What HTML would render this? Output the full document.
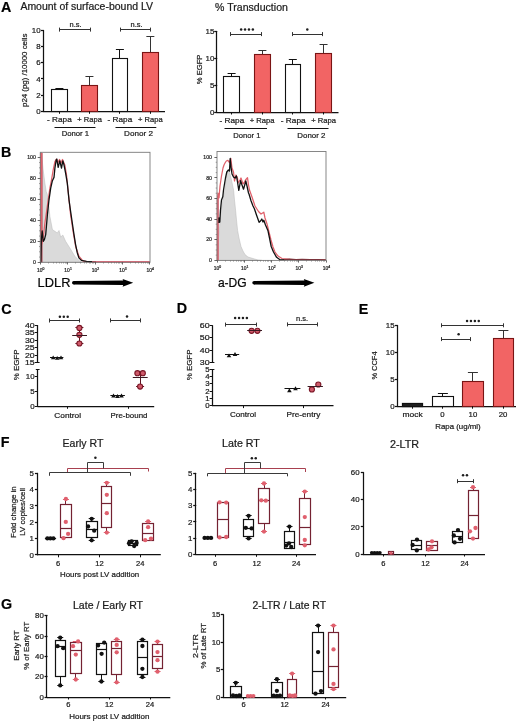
<!DOCTYPE html>
<html><head><meta charset="utf-8"><style>
html,body{margin:0;padding:0;background:#fff;}
svg{display:block;will-change:transform;}
text{stroke:#1c1c1c;stroke-width:0.22px;}
</style></head><body>
<svg width="520" height="723" viewBox="0 0 520 723" font-family='"Liberation Sans", sans-serif' fill="#1c1c1c">
<rect width="520" height="723" fill="#fff"/>
<text x="1" y="12.3" font-size="14.3" font-weight="bold" fill="#000">A</text>
<text x="20.4" y="10.1" font-size="10.3" textLength="132.6" lengthAdjust="spacingAndGlyphs">Amount of surface-bound LV</text>
<text x="215.1" y="10.5" font-size="10.3" textLength="72.8" lengthAdjust="spacingAndGlyphs">% Transduction</text>
<line x1="43.5" y1="30.2" x2="43.5" y2="111.8" stroke="#111" stroke-width="1.25"/>
<line x1="41" y1="111.5" x2="44.02" y2="111.5" stroke="#111" stroke-width="1.25"/>
<text x="40.6" y="114" font-size="7.88" text-anchor="end">0</text>
<line x1="41" y1="95.5" x2="44.02" y2="95.5" stroke="#111" stroke-width="1.25"/>
<text x="40.6" y="97.8" font-size="7.88" text-anchor="end">2</text>
<line x1="41" y1="78.5" x2="44.02" y2="78.5" stroke="#111" stroke-width="1.25"/>
<text x="40.6" y="81.6" font-size="7.88" text-anchor="end">4</text>
<line x1="41" y1="62.5" x2="44.02" y2="62.5" stroke="#111" stroke-width="1.25"/>
<text x="40.6" y="65.4" font-size="7.88" text-anchor="end">6</text>
<line x1="41" y1="46.5" x2="44.02" y2="46.5" stroke="#111" stroke-width="1.25"/>
<text x="40.6" y="49.2" font-size="7.88" text-anchor="end">8</text>
<line x1="41" y1="30.5" x2="44.02" y2="30.5" stroke="#111" stroke-width="1.25"/>
<text x="40.6" y="33" font-size="7.88" text-anchor="end">10</text>
<line x1="43.4" y1="111.5" x2="165" y2="111.5" stroke="#111" stroke-width="1.25"/>
<line x1="59.5" y1="89.4" x2="59.5" y2="88.4" stroke="#111" stroke-width="1"/>
<line x1="55.4" y1="88.5" x2="63.4" y2="88.5" stroke="#111" stroke-width="1"/>
<rect x="51.5" y="89.5" width="16" height="22" fill="#fff" stroke="#111" stroke-width="1.1"/>
<line x1="59.5" y1="111.3" x2="59.5" y2="113.8" stroke="#111" stroke-width="1"/>
<line x1="89.5" y1="85.9" x2="89.5" y2="76.4" stroke="#333" stroke-width="1"/>
<line x1="85.45" y1="76.5" x2="93.45" y2="76.5" stroke="#333" stroke-width="1"/>
<rect x="81.5" y="85.5" width="16" height="26" fill="#f26464" stroke="#7a1414" stroke-width="1.1"/>
<line x1="89.5" y1="111.3" x2="89.5" y2="113.8" stroke="#111" stroke-width="1"/>
<line x1="119.5" y1="58" x2="119.5" y2="49" stroke="#111" stroke-width="1"/>
<line x1="115.9" y1="49.5" x2="123.9" y2="49.5" stroke="#111" stroke-width="1"/>
<rect x="112.5" y="58.5" width="15" height="53" fill="#fff" stroke="#111" stroke-width="1.1"/>
<line x1="119.5" y1="111.3" x2="119.5" y2="113.8" stroke="#111" stroke-width="1"/>
<line x1="150.5" y1="52" x2="150.5" y2="36.3" stroke="#333" stroke-width="1"/>
<line x1="146.35" y1="36.5" x2="154.35" y2="36.5" stroke="#333" stroke-width="1"/>
<rect x="142.5" y="52.5" width="16" height="59" fill="#f26464" stroke="#7a1414" stroke-width="1.1"/>
<line x1="150.5" y1="111.3" x2="150.5" y2="113.8" stroke="#111" stroke-width="1"/>
<line x1="59.5" y1="29.5" x2="90" y2="29.5" stroke="#333" stroke-width="1"/>
<line x1="59.5" y1="27.6" x2="59.5" y2="31.6" stroke="#333" stroke-width="1"/>
<line x1="90.5" y1="27.6" x2="90.5" y2="31.6" stroke="#333" stroke-width="1"/>
<line x1="120.5" y1="29.5" x2="150.75" y2="29.5" stroke="#333" stroke-width="1"/>
<line x1="120.5" y1="27.6" x2="120.5" y2="31.6" stroke="#333" stroke-width="1"/>
<line x1="150.5" y1="27.6" x2="150.5" y2="31.6" stroke="#333" stroke-width="1"/>
<text x="75.6" y="27" font-size="7.35" text-anchor="middle" textLength="12" lengthAdjust="spacingAndGlyphs">n.s.</text>
<text x="136.5" y="27" font-size="7.35" text-anchor="middle" textLength="12" lengthAdjust="spacingAndGlyphs">n.s.</text>
<text x="59.4" y="122.1" font-size="7.67" text-anchor="middle" textLength="24.6" lengthAdjust="spacingAndGlyphs">- Rapa</text>
<text x="89.6" y="122.1" font-size="7.67" text-anchor="middle" textLength="24.6" lengthAdjust="spacingAndGlyphs">+ Rapa</text>
<text x="119.9" y="122.1" font-size="7.67" text-anchor="middle" textLength="24.6" lengthAdjust="spacingAndGlyphs">- Rapa</text>
<text x="150.3" y="122.1" font-size="7.67" text-anchor="middle" textLength="24.6" lengthAdjust="spacingAndGlyphs">+ Rapa</text>
<line x1="54.5" y1="127.5" x2="95.5" y2="127.5" stroke="#111" stroke-width="1"/>
<line x1="115.5" y1="127.5" x2="156.3" y2="127.5" stroke="#111" stroke-width="1"/>
<text x="75.4" y="136.2" font-size="7.77" text-anchor="middle" textLength="27.5" lengthAdjust="spacingAndGlyphs">Donor 1</text>
<text x="138.5" y="136.2" font-size="7.77" text-anchor="middle" textLength="28.8" lengthAdjust="spacingAndGlyphs">Donor 2</text>
<text x="27.3" y="70.3" font-size="7.98" text-anchor="middle" textLength="73.4" lengthAdjust="spacingAndGlyphs" transform="rotate(-90 27.3 70.3)">p24 (pg) /10000 cells</text>
<line x1="216.5" y1="31" x2="216.5" y2="112.5" stroke="#111" stroke-width="1.25"/>
<line x1="214.2" y1="112.5" x2="217.22" y2="112.5" stroke="#111" stroke-width="1.25"/>
<text x="214.3" y="114.7" font-size="7.88" text-anchor="end">0</text>
<line x1="214.2" y1="85.5" x2="217.22" y2="85.5" stroke="#111" stroke-width="1.25"/>
<text x="214.3" y="87.7" font-size="7.88" text-anchor="end">5</text>
<line x1="214.2" y1="58.5" x2="217.22" y2="58.5" stroke="#111" stroke-width="1.25"/>
<text x="214.3" y="60.7" font-size="7.88" text-anchor="end">10</text>
<line x1="214.2" y1="31.5" x2="217.22" y2="31.5" stroke="#111" stroke-width="1.25"/>
<text x="214.3" y="33.7" font-size="7.88" text-anchor="end">15</text>
<line x1="216.6" y1="112.5" x2="338.5" y2="112.5" stroke="#111" stroke-width="1.25"/>
<line x1="231.5" y1="76.25" x2="231.5" y2="73.25" stroke="#111" stroke-width="1"/>
<line x1="227.6" y1="73.5" x2="235.6" y2="73.5" stroke="#111" stroke-width="1"/>
<rect x="223.5" y="76.5" width="16" height="36" fill="#fff" stroke="#111" stroke-width="1.1"/>
<line x1="231.5" y1="112" x2="231.5" y2="114.5" stroke="#111" stroke-width="1"/>
<line x1="262.5" y1="54.6" x2="262.5" y2="50.8" stroke="#333" stroke-width="1"/>
<line x1="258.4" y1="50.5" x2="266.4" y2="50.5" stroke="#333" stroke-width="1"/>
<rect x="254.5" y="54.5" width="16" height="58" fill="#f26464" stroke="#7a1414" stroke-width="1.1"/>
<line x1="262.5" y1="112" x2="262.5" y2="114.5" stroke="#111" stroke-width="1"/>
<line x1="292.5" y1="64.2" x2="292.5" y2="59.4" stroke="#111" stroke-width="1"/>
<line x1="288.8" y1="59.5" x2="296.8" y2="59.5" stroke="#111" stroke-width="1"/>
<rect x="285.5" y="64.5" width="15" height="48" fill="#fff" stroke="#111" stroke-width="1.1"/>
<line x1="292.5" y1="112" x2="292.5" y2="114.5" stroke="#111" stroke-width="1"/>
<line x1="323.5" y1="53.1" x2="323.5" y2="44.4" stroke="#333" stroke-width="1"/>
<line x1="319.55" y1="44.5" x2="327.55" y2="44.5" stroke="#333" stroke-width="1"/>
<rect x="315.5" y="53.5" width="16" height="59" fill="#f26464" stroke="#7a1414" stroke-width="1.1"/>
<line x1="323.5" y1="112" x2="323.5" y2="114.5" stroke="#111" stroke-width="1"/>
<line x1="230.75" y1="34.5" x2="261.4" y2="34.5" stroke="#333" stroke-width="1"/>
<line x1="230.5" y1="32.1" x2="230.5" y2="36.1" stroke="#333" stroke-width="1"/>
<line x1="261.5" y1="32.1" x2="261.5" y2="36.1" stroke="#333" stroke-width="1"/>
<line x1="292" y1="34.5" x2="322.7" y2="34.5" stroke="#333" stroke-width="1"/>
<line x1="292.5" y1="32.1" x2="292.5" y2="36.1" stroke="#333" stroke-width="1"/>
<line x1="322.5" y1="32.1" x2="322.5" y2="36.1" stroke="#333" stroke-width="1"/>
<circle cx="241.15" cy="29.4" r="1.25" fill="#1e1e1e"/>
<circle cx="245.05" cy="29.4" r="1.25" fill="#1e1e1e"/>
<circle cx="248.95" cy="29.4" r="1.25" fill="#1e1e1e"/>
<circle cx="252.85" cy="29.4" r="1.25" fill="#1e1e1e"/>
<circle cx="307.3" cy="29.4" r="1.25" fill="#1e1e1e"/>
<text x="231.9" y="123.3" font-size="7.67" text-anchor="middle" textLength="24.8" lengthAdjust="spacingAndGlyphs">- Rapa</text>
<text x="262.2" y="123.3" font-size="7.67" text-anchor="middle" textLength="24.8" lengthAdjust="spacingAndGlyphs">+ Rapa</text>
<text x="293.2" y="123.3" font-size="7.67" text-anchor="middle" textLength="24.8" lengthAdjust="spacingAndGlyphs">- Rapa</text>
<text x="323.6" y="123.3" font-size="7.67" text-anchor="middle" textLength="24.8" lengthAdjust="spacingAndGlyphs">+ Rapa</text>
<line x1="224.5" y1="128.5" x2="267" y2="128.5" stroke="#111" stroke-width="1"/>
<line x1="287.5" y1="128.5" x2="328.5" y2="128.5" stroke="#111" stroke-width="1"/>
<text x="246.9" y="137.6" font-size="7.77" text-anchor="middle" textLength="27.1" lengthAdjust="spacingAndGlyphs">Donor 1</text>
<text x="311.4" y="137.6" font-size="7.77" text-anchor="middle" textLength="28.1" lengthAdjust="spacingAndGlyphs">Donor 2</text>
<text x="202.3" y="69.4" font-size="7.67" text-anchor="middle" textLength="29.5" lengthAdjust="spacingAndGlyphs" transform="rotate(-90 202.3 69.4)">% EGFP</text>
<text x="0.9" y="157.4" font-size="14.3" font-weight="bold" fill="#000">B</text>
<path d="M40.3 262.3 L40.3 153 L41.6 153.3 L43.2 170 L44.9 183.2 L46.2 191.5 L47.4 194.8 L49 208 L49.9 216.4 L52.4 229.6 L54.9 231.3 L57.3 233 L59 230.5 L60.7 237.1 L62.8 235 L65.6 241.3 L69.8 247.9 L74.8 256.2 L79.8 261.2 L82 262.3 Z" fill="#dadada" stroke="#b8b8b8" stroke-width="0.5"/>
<rect x="40" y="153" width="2.6" height="109.3" fill="#b8606c"/>
<path d="M41 262.3 L41 153 L41.6 153 L41.6 244.6 L43.2 238 L44.9 223 L46.6 211.4 L48.2 199.8 L49.9 188.2 L51.5 179.9 L53.2 169.9 L54.9 161.6 L56.5 159.1 L58 162.5 L59.5 159.5 L61 163 L62.5 159.5 L64.8 164.9 L66.5 174.9 L68.5 194.8 L70.6 214.7 L73.1 231.3 L75.6 246.2 L78.9 256.2 L83.1 261.2 L89.7 261.9 L150 261.9" stroke="#e0606a" stroke-width="1.25" fill="none" stroke-linejoin="round"/>
<path d="M40.9 262.3 L41.3 240 L42.2 231 L43.2 241.3 L44.4 239.6 L45.7 234.6 L47.4 214.7 L49 199.8 L50.7 188.2 L52.4 180.7 L54 177.4 L54.9 168.2 L56.2 159.9 L56.8 159.1 L58.2 167.4 L59.8 160.8 L61.5 168.2 L62.8 160.8 L64 164.9 L65.6 173.2 L67.3 183.2 L69 199.8 L70.6 211.4 L72.3 223 L74 234.6 L75.6 244.6 L77.3 252.9 L78.9 257.9 L81.4 260.4 L86.4 261.4 L96 262" stroke="#111" stroke-width="1.3" fill="none" stroke-linejoin="round"/>
<path d="M92 261.8 L150 261.8" stroke="#d86070" stroke-width="1.2" fill="none"/>
<rect x="40.3" y="152.3" width="109.7" height="110" fill="none" stroke="#7a7a7a" stroke-width="0.9"/>
<line x1="39" y1="257.05" x2="40.3" y2="257.05" stroke="#777" stroke-width="0.7"/>
<line x1="39" y1="251.8" x2="40.3" y2="251.8" stroke="#777" stroke-width="0.7"/>
<line x1="39" y1="246.55" x2="40.3" y2="246.55" stroke="#777" stroke-width="0.7"/>
<line x1="39" y1="236.05" x2="40.3" y2="236.05" stroke="#777" stroke-width="0.7"/>
<line x1="39" y1="230.8" x2="40.3" y2="230.8" stroke="#777" stroke-width="0.7"/>
<line x1="39" y1="225.55" x2="40.3" y2="225.55" stroke="#777" stroke-width="0.7"/>
<line x1="39" y1="215.05" x2="40.3" y2="215.05" stroke="#777" stroke-width="0.7"/>
<line x1="39" y1="209.8" x2="40.3" y2="209.8" stroke="#777" stroke-width="0.7"/>
<line x1="39" y1="204.55" x2="40.3" y2="204.55" stroke="#777" stroke-width="0.7"/>
<line x1="39" y1="194.05" x2="40.3" y2="194.05" stroke="#777" stroke-width="0.7"/>
<line x1="39" y1="188.8" x2="40.3" y2="188.8" stroke="#777" stroke-width="0.7"/>
<line x1="39" y1="183.55" x2="40.3" y2="183.55" stroke="#777" stroke-width="0.7"/>
<line x1="39" y1="173.05" x2="40.3" y2="173.05" stroke="#777" stroke-width="0.7"/>
<line x1="39" y1="167.8" x2="40.3" y2="167.8" stroke="#777" stroke-width="0.7"/>
<line x1="39" y1="162.55" x2="40.3" y2="162.55" stroke="#777" stroke-width="0.7"/>
<line x1="37.7" y1="262.5" x2="40.3" y2="262.5" stroke="#444" stroke-width="0.8"/>
<text x="35.9" y="264.1" font-size="5.2" text-anchor="end" fill="#333">0</text>
<line x1="37.7" y1="241.5" x2="40.3" y2="241.5" stroke="#444" stroke-width="0.8"/>
<text x="35.9" y="243.1" font-size="5.2" text-anchor="end" fill="#333">20</text>
<line x1="37.7" y1="220.5" x2="40.3" y2="220.5" stroke="#444" stroke-width="0.8"/>
<text x="35.9" y="222.1" font-size="5.2" text-anchor="end" fill="#333">40</text>
<line x1="37.7" y1="199.5" x2="40.3" y2="199.5" stroke="#444" stroke-width="0.8"/>
<text x="35.9" y="201.1" font-size="5.2" text-anchor="end" fill="#333">60</text>
<line x1="37.7" y1="178.5" x2="40.3" y2="178.5" stroke="#444" stroke-width="0.8"/>
<text x="35.9" y="180.1" font-size="5.2" text-anchor="end" fill="#333">80</text>
<line x1="37.7" y1="157.5" x2="40.3" y2="157.5" stroke="#444" stroke-width="0.8"/>
<text x="35.9" y="159.1" font-size="5.2" text-anchor="end" fill="#333">100</text>
<line x1="40.5" y1="262.3" x2="40.5" y2="264.5" stroke="#444" stroke-width="0.8"/>
<text x="39.7" y="272.1" font-size="4.9" text-anchor="middle" fill="#333">10</text>
<text x="42.5" y="269.9" font-size="3.4" fill="#333">0</text>
<line x1="48.5" y1="262.3" x2="48.5" y2="263.5" stroke="#666" stroke-width="0.6"/>
<line x1="53.5" y1="262.3" x2="53.5" y2="263.5" stroke="#666" stroke-width="0.6"/>
<line x1="56.5" y1="262.3" x2="56.5" y2="263.5" stroke="#666" stroke-width="0.6"/>
<line x1="59.5" y1="262.3" x2="59.5" y2="263.5" stroke="#666" stroke-width="0.6"/>
<line x1="61.5" y1="262.3" x2="61.5" y2="263.5" stroke="#666" stroke-width="0.6"/>
<line x1="63.5" y1="262.3" x2="63.5" y2="263.5" stroke="#666" stroke-width="0.6"/>
<line x1="65.5" y1="262.3" x2="65.5" y2="263.5" stroke="#666" stroke-width="0.6"/>
<line x1="66.5" y1="262.3" x2="66.5" y2="263.5" stroke="#666" stroke-width="0.6"/>
<line x1="67.5" y1="262.3" x2="67.5" y2="264.5" stroke="#444" stroke-width="0.8"/>
<text x="67.1" y="272.1" font-size="4.9" text-anchor="middle" fill="#333">10</text>
<text x="69.9" y="269.9" font-size="3.4" fill="#333">1</text>
<line x1="75.5" y1="262.3" x2="75.5" y2="263.5" stroke="#666" stroke-width="0.6"/>
<line x1="80.5" y1="262.3" x2="80.5" y2="263.5" stroke="#666" stroke-width="0.6"/>
<line x1="84.5" y1="262.3" x2="84.5" y2="263.5" stroke="#666" stroke-width="0.6"/>
<line x1="86.5" y1="262.3" x2="86.5" y2="263.5" stroke="#666" stroke-width="0.6"/>
<line x1="89.5" y1="262.3" x2="89.5" y2="263.5" stroke="#666" stroke-width="0.6"/>
<line x1="90.5" y1="262.3" x2="90.5" y2="263.5" stroke="#666" stroke-width="0.6"/>
<line x1="92.5" y1="262.3" x2="92.5" y2="263.5" stroke="#666" stroke-width="0.6"/>
<line x1="93.5" y1="262.3" x2="93.5" y2="263.5" stroke="#666" stroke-width="0.6"/>
<line x1="95.5" y1="262.3" x2="95.5" y2="264.5" stroke="#444" stroke-width="0.8"/>
<text x="94.5" y="272.1" font-size="4.9" text-anchor="middle" fill="#333">10</text>
<text x="97.3" y="269.9" font-size="3.4" fill="#333">2</text>
<line x1="103.5" y1="262.3" x2="103.5" y2="263.5" stroke="#666" stroke-width="0.6"/>
<line x1="108.5" y1="262.3" x2="108.5" y2="263.5" stroke="#666" stroke-width="0.6"/>
<line x1="111.5" y1="262.3" x2="111.5" y2="263.5" stroke="#666" stroke-width="0.6"/>
<line x1="114.5" y1="262.3" x2="114.5" y2="263.5" stroke="#666" stroke-width="0.6"/>
<line x1="116.5" y1="262.3" x2="116.5" y2="263.5" stroke="#666" stroke-width="0.6"/>
<line x1="118.5" y1="262.3" x2="118.5" y2="263.5" stroke="#666" stroke-width="0.6"/>
<line x1="119.5" y1="262.3" x2="119.5" y2="263.5" stroke="#666" stroke-width="0.6"/>
<line x1="121.5" y1="262.3" x2="121.5" y2="263.5" stroke="#666" stroke-width="0.6"/>
<line x1="122.5" y1="262.3" x2="122.5" y2="264.5" stroke="#444" stroke-width="0.8"/>
<text x="121.9" y="272.1" font-size="4.9" text-anchor="middle" fill="#333">10</text>
<text x="124.7" y="269.9" font-size="3.4" fill="#333">3</text>
<line x1="130.5" y1="262.3" x2="130.5" y2="263.5" stroke="#666" stroke-width="0.6"/>
<line x1="135.5" y1="262.3" x2="135.5" y2="263.5" stroke="#666" stroke-width="0.6"/>
<line x1="138.5" y1="262.3" x2="138.5" y2="263.5" stroke="#666" stroke-width="0.6"/>
<line x1="141.5" y1="262.3" x2="141.5" y2="263.5" stroke="#666" stroke-width="0.6"/>
<line x1="143.5" y1="262.3" x2="143.5" y2="263.5" stroke="#666" stroke-width="0.6"/>
<line x1="145.5" y1="262.3" x2="145.5" y2="263.5" stroke="#666" stroke-width="0.6"/>
<line x1="147.5" y1="262.3" x2="147.5" y2="263.5" stroke="#666" stroke-width="0.6"/>
<line x1="148.5" y1="262.3" x2="148.5" y2="263.5" stroke="#666" stroke-width="0.6"/>
<line x1="149.5" y1="262.3" x2="149.5" y2="264.5" stroke="#444" stroke-width="0.8"/>
<text x="149.3" y="272.1" font-size="4.9" text-anchor="middle" fill="#333">10</text>
<text x="152.1" y="269.9" font-size="3.4" fill="#333">4</text>
<text x="37.6" y="287" font-size="12.7" textLength="32.8" lengthAdjust="spacingAndGlyphs" fill="#000">LDLR</text>
<path d="M73.7 281 L123.2 280.6 L122.6 278.9 L133.2 282.8 L122.6 286.7 L123.2 285 L73.7 284.6 Z" fill="#000"/>
<circle cx="73.8" cy="282.8" r="1.8" fill="#000"/>
<path d="M217.3 260.4 L217.5 250 L218.5 238 L219.5 228 L220 220 L221 212 L222 205 L223.5 196 L224.8 190 L226 180 L227.2 173 L228.4 170.6 L229.5 172 L230.5 176 L231.5 180 L232.5 185 L233.6 190 L234.5 200 L235.6 210.2 L236.5 220 L237.6 230.4 L239 238 L241 246.5 L243 251 L245 254.6 L248 257 L253 258.5 L258 260 L262 260.4 Z" fill="#dadada" stroke="#b8b8b8" stroke-width="0.5"/>
<rect x="217" y="196" width="1.9" height="64.4" fill="#d46a78"/>
<path d="M217.4 260.4 L217.4 200 L218 193 L219 198 L220 186 L221.5 176 L223 168 L224 165 L225 163 L226.3 161 L227.9 160.3 L229.5 162.7 L230.8 158.4 L231 160 L232 168 L233.5 172 L234.5 181 L236 175 L237.5 178 L238 183 L240 180 L241 178 L243 184 L244 183 L245.5 180 L247.5 177.7 L248.5 185 L249.5 190 L252 197 L255 206 L258.5 211.5 L261 214 L263.8 212.2 L265 218 L267 224 L269 232 L271 240 L273 247 L275 252 L278 256 L282 258.5 L290 259.3 L300 259.5 L326 259.9" stroke="#e0606a" stroke-width="1.25" fill="none" stroke-linejoin="round"/>
<path d="M219 223 L219 218 L219.8 222 L220.5 210 L221.5 200 L222.8 196.7 L223.5 190 L224.5 184 L225.5 178 L226.8 172 L228.4 169.9 L229.5 171 L230.2 158.5 L231 167 L232 174 L233.5 177 L235 178 L236.5 176 L237.5 182 L238.8 190.4 L240 184 L240.6 180.6 L242 185 L243.5 189.2 L245 184 L245.8 181 L247 186 L248.5 193 L249 194 L251 200.8 L253 206 L254.4 208.8 L256.5 215 L259.1 222.3 L260.5 221 L261.8 219 L263 222 L263.8 220.3 L265.5 225 L267.9 230.4 L269.5 238 L271.2 246.5 L273.5 252 L276.6 257.3 L280 259.8 L286 259.7" stroke="#111" stroke-width="1.3" fill="none" stroke-linejoin="round"/>
<path d="M284 259.6 L290 259.2 L296 259.6 L302 259.3 L310 259.7 L318 259.5 L326 259.8" stroke="#7a3038" stroke-width="1.2" fill="none"/>
<rect x="217" y="151.5" width="109" height="108.9" fill="none" stroke="#7a7a7a" stroke-width="0.9"/>
<line x1="215.7" y1="255.14" x2="217" y2="255.14" stroke="#777" stroke-width="0.7"/>
<line x1="215.7" y1="249.98" x2="217" y2="249.98" stroke="#777" stroke-width="0.7"/>
<line x1="215.7" y1="244.82" x2="217" y2="244.82" stroke="#777" stroke-width="0.7"/>
<line x1="215.7" y1="234.5" x2="217" y2="234.5" stroke="#777" stroke-width="0.7"/>
<line x1="215.7" y1="229.34" x2="217" y2="229.34" stroke="#777" stroke-width="0.7"/>
<line x1="215.7" y1="224.18" x2="217" y2="224.18" stroke="#777" stroke-width="0.7"/>
<line x1="215.7" y1="213.86" x2="217" y2="213.86" stroke="#777" stroke-width="0.7"/>
<line x1="215.7" y1="208.7" x2="217" y2="208.7" stroke="#777" stroke-width="0.7"/>
<line x1="215.7" y1="203.54" x2="217" y2="203.54" stroke="#777" stroke-width="0.7"/>
<line x1="215.7" y1="193.22" x2="217" y2="193.22" stroke="#777" stroke-width="0.7"/>
<line x1="215.7" y1="188.06" x2="217" y2="188.06" stroke="#777" stroke-width="0.7"/>
<line x1="215.7" y1="182.9" x2="217" y2="182.9" stroke="#777" stroke-width="0.7"/>
<line x1="215.7" y1="172.58" x2="217" y2="172.58" stroke="#777" stroke-width="0.7"/>
<line x1="215.7" y1="167.42" x2="217" y2="167.42" stroke="#777" stroke-width="0.7"/>
<line x1="215.7" y1="162.26" x2="217" y2="162.26" stroke="#777" stroke-width="0.7"/>
<line x1="214.4" y1="260.5" x2="217" y2="260.5" stroke="#444" stroke-width="0.8"/>
<text x="212" y="262.1" font-size="5.2" text-anchor="end" fill="#333">0</text>
<line x1="214.4" y1="239.5" x2="217" y2="239.5" stroke="#444" stroke-width="0.8"/>
<text x="212" y="241.46" font-size="5.2" text-anchor="end" fill="#333">20</text>
<line x1="214.4" y1="219.5" x2="217" y2="219.5" stroke="#444" stroke-width="0.8"/>
<text x="212" y="220.82" font-size="5.2" text-anchor="end" fill="#333">40</text>
<line x1="214.4" y1="198.5" x2="217" y2="198.5" stroke="#444" stroke-width="0.8"/>
<text x="212" y="200.18" font-size="5.2" text-anchor="end" fill="#333">60</text>
<line x1="214.4" y1="177.5" x2="217" y2="177.5" stroke="#444" stroke-width="0.8"/>
<text x="212" y="179.54" font-size="5.2" text-anchor="end" fill="#333">80</text>
<line x1="214.4" y1="157.5" x2="217" y2="157.5" stroke="#444" stroke-width="0.8"/>
<text x="212" y="158.9" font-size="5.2" text-anchor="end" fill="#333">100</text>
<line x1="217.5" y1="260.4" x2="217.5" y2="262.6" stroke="#444" stroke-width="0.8"/>
<text x="216.4" y="270.2" font-size="4.9" text-anchor="middle" fill="#333">10</text>
<text x="219.2" y="268" font-size="3.4" fill="#333">0</text>
<line x1="225.5" y1="260.4" x2="225.5" y2="261.6" stroke="#666" stroke-width="0.6"/>
<line x1="230.5" y1="260.4" x2="230.5" y2="261.6" stroke="#666" stroke-width="0.6"/>
<line x1="233.5" y1="260.4" x2="233.5" y2="261.6" stroke="#666" stroke-width="0.6"/>
<line x1="236.5" y1="260.4" x2="236.5" y2="261.6" stroke="#666" stroke-width="0.6"/>
<line x1="238.5" y1="260.4" x2="238.5" y2="261.6" stroke="#666" stroke-width="0.6"/>
<line x1="240.5" y1="260.4" x2="240.5" y2="261.6" stroke="#666" stroke-width="0.6"/>
<line x1="241.5" y1="260.4" x2="241.5" y2="261.6" stroke="#666" stroke-width="0.6"/>
<line x1="243.5" y1="260.4" x2="243.5" y2="261.6" stroke="#666" stroke-width="0.6"/>
<line x1="244.5" y1="260.4" x2="244.5" y2="262.6" stroke="#444" stroke-width="0.8"/>
<text x="243.65" y="270.2" font-size="4.9" text-anchor="middle" fill="#333">10</text>
<text x="246.45" y="268" font-size="3.4" fill="#333">1</text>
<line x1="252.5" y1="260.4" x2="252.5" y2="261.6" stroke="#666" stroke-width="0.6"/>
<line x1="257.5" y1="260.4" x2="257.5" y2="261.6" stroke="#666" stroke-width="0.6"/>
<line x1="260.5" y1="260.4" x2="260.5" y2="261.6" stroke="#666" stroke-width="0.6"/>
<line x1="263.5" y1="260.4" x2="263.5" y2="261.6" stroke="#666" stroke-width="0.6"/>
<line x1="265.5" y1="260.4" x2="265.5" y2="261.6" stroke="#666" stroke-width="0.6"/>
<line x1="267.5" y1="260.4" x2="267.5" y2="261.6" stroke="#666" stroke-width="0.6"/>
<line x1="268.5" y1="260.4" x2="268.5" y2="261.6" stroke="#666" stroke-width="0.6"/>
<line x1="270.5" y1="260.4" x2="270.5" y2="261.6" stroke="#666" stroke-width="0.6"/>
<line x1="271.5" y1="260.4" x2="271.5" y2="262.6" stroke="#444" stroke-width="0.8"/>
<text x="270.9" y="270.2" font-size="4.9" text-anchor="middle" fill="#333">10</text>
<text x="273.7" y="268" font-size="3.4" fill="#333">2</text>
<line x1="279.5" y1="260.4" x2="279.5" y2="261.6" stroke="#666" stroke-width="0.6"/>
<line x1="284.5" y1="260.4" x2="284.5" y2="261.6" stroke="#666" stroke-width="0.6"/>
<line x1="287.5" y1="260.4" x2="287.5" y2="261.6" stroke="#666" stroke-width="0.6"/>
<line x1="290.5" y1="260.4" x2="290.5" y2="261.6" stroke="#666" stroke-width="0.6"/>
<line x1="292.5" y1="260.4" x2="292.5" y2="261.6" stroke="#666" stroke-width="0.6"/>
<line x1="294.5" y1="260.4" x2="294.5" y2="261.6" stroke="#666" stroke-width="0.6"/>
<line x1="296.5" y1="260.4" x2="296.5" y2="261.6" stroke="#666" stroke-width="0.6"/>
<line x1="297.5" y1="260.4" x2="297.5" y2="261.6" stroke="#666" stroke-width="0.6"/>
<line x1="298.5" y1="260.4" x2="298.5" y2="262.6" stroke="#444" stroke-width="0.8"/>
<text x="298.15" y="270.2" font-size="4.9" text-anchor="middle" fill="#333">10</text>
<text x="300.95" y="268" font-size="3.4" fill="#333">3</text>
<line x1="306.5" y1="260.4" x2="306.5" y2="261.6" stroke="#666" stroke-width="0.6"/>
<line x1="311.5" y1="260.4" x2="311.5" y2="261.6" stroke="#666" stroke-width="0.6"/>
<line x1="315.5" y1="260.4" x2="315.5" y2="261.6" stroke="#666" stroke-width="0.6"/>
<line x1="317.5" y1="260.4" x2="317.5" y2="261.6" stroke="#666" stroke-width="0.6"/>
<line x1="319.5" y1="260.4" x2="319.5" y2="261.6" stroke="#666" stroke-width="0.6"/>
<line x1="321.5" y1="260.4" x2="321.5" y2="261.6" stroke="#666" stroke-width="0.6"/>
<line x1="323.5" y1="260.4" x2="323.5" y2="261.6" stroke="#666" stroke-width="0.6"/>
<line x1="324.5" y1="260.4" x2="324.5" y2="261.6" stroke="#666" stroke-width="0.6"/>
<line x1="326.5" y1="260.4" x2="326.5" y2="262.6" stroke="#444" stroke-width="0.8"/>
<text x="325.4" y="270.2" font-size="4.9" text-anchor="middle" fill="#333">10</text>
<text x="328.2" y="268" font-size="3.4" fill="#333">4</text>
<text x="217.9" y="286.9" font-size="12.2" textLength="28.8" lengthAdjust="spacingAndGlyphs" fill="#000">a-DG</text>
<path d="M254 281 L304.4 280.6 L303.8 278.9 L314.4 282.8 L303.8 286.7 L304.4 285 L254 284.6 Z" fill="#000"/>
<circle cx="254.1" cy="282.8" r="1.8" fill="#000"/>
<text x="1.2" y="313.6" font-size="14.3" font-weight="bold" fill="#000">C</text>
<line x1="37.5" y1="325" x2="37.5" y2="362.5" stroke="#111" stroke-width="1.25"/>
<line x1="34.8" y1="325.5" x2="37.9" y2="325.5" stroke="#111" stroke-width="1"/>
<text x="34.6" y="327.9" font-size="7.77" text-anchor="end" textLength="9.7" lengthAdjust="spacingAndGlyphs">40</text>
<line x1="34.8" y1="332.5" x2="37.9" y2="332.5" stroke="#111" stroke-width="1"/>
<text x="34.6" y="335.33" font-size="7.77" text-anchor="end" textLength="9.7" lengthAdjust="spacingAndGlyphs">35</text>
<line x1="34.8" y1="340.5" x2="37.9" y2="340.5" stroke="#111" stroke-width="1"/>
<text x="34.6" y="342.75" font-size="7.77" text-anchor="end" textLength="9.7" lengthAdjust="spacingAndGlyphs">30</text>
<line x1="34.8" y1="347.5" x2="37.9" y2="347.5" stroke="#111" stroke-width="1"/>
<text x="34.6" y="350.18" font-size="7.77" text-anchor="end" textLength="9.7" lengthAdjust="spacingAndGlyphs">25</text>
<line x1="34.8" y1="355.5" x2="37.9" y2="355.5" stroke="#111" stroke-width="1"/>
<text x="34.6" y="357.6" font-size="7.77" text-anchor="end" textLength="9.7" lengthAdjust="spacingAndGlyphs">20</text>
<line x1="34.8" y1="362.5" x2="37.9" y2="362.5" stroke="#111" stroke-width="1"/>
<text x="34.6" y="365.03" font-size="7.77" text-anchor="end" textLength="9.7" lengthAdjust="spacingAndGlyphs">15</text>
<line x1="35.8" y1="362.5" x2="39.6" y2="362.5" stroke="#111" stroke-width="1"/>
<line x1="37.5" y1="369.6" x2="37.5" y2="406.8" stroke="#111" stroke-width="1.25"/>
<line x1="35.8" y1="369.5" x2="39.6" y2="369.5" stroke="#111" stroke-width="1"/>
<line x1="34.8" y1="376.5" x2="37.9" y2="376.5" stroke="#111" stroke-width="1"/>
<text x="34.6" y="378.8" font-size="7.88" text-anchor="end">10</text>
<line x1="34.8" y1="391.5" x2="37.9" y2="391.5" stroke="#111" stroke-width="1"/>
<text x="34.6" y="393.9" font-size="7.88" text-anchor="end">5</text>
<line x1="34.8" y1="406.5" x2="37.9" y2="406.5" stroke="#111" stroke-width="1"/>
<text x="34.6" y="409" font-size="7.88" text-anchor="end">0</text>
<line x1="37.4" y1="406.5" x2="154.2" y2="406.5" stroke="#111" stroke-width="1.25"/>
<line x1="67.5" y1="406.3" x2="67.5" y2="408.8" stroke="#111" stroke-width="1"/>
<line x1="128.5" y1="406.3" x2="128.5" y2="408.8" stroke="#111" stroke-width="1"/>
<text x="67.7" y="417.9" font-size="7.77" text-anchor="middle" textLength="26.8" lengthAdjust="spacingAndGlyphs">Control</text>
<text x="129" y="417.9" font-size="7.77" text-anchor="middle" textLength="36.8" lengthAdjust="spacingAndGlyphs">Pre-bound</text>
<text x="18.6" y="364.9" font-size="7.67" text-anchor="middle" textLength="30.8" lengthAdjust="spacingAndGlyphs" transform="rotate(-90 18.6 364.9)">% EGFP</text>
<line x1="49.4" y1="320.5" x2="79.6" y2="320.5" stroke="#333" stroke-width="1"/>
<line x1="49.5" y1="318.5" x2="49.5" y2="322.5" stroke="#333" stroke-width="1"/>
<line x1="79.5" y1="318.5" x2="79.5" y2="322.5" stroke="#333" stroke-width="1"/>
<circle cx="59.9" cy="316.8" r="1.25" fill="#1e1e1e"/>
<circle cx="63.8" cy="316.8" r="1.25" fill="#1e1e1e"/>
<circle cx="67.7" cy="316.8" r="1.25" fill="#1e1e1e"/>
<line x1="110" y1="320.5" x2="140.8" y2="320.5" stroke="#333" stroke-width="1"/>
<line x1="110.5" y1="318.4" x2="110.5" y2="322.4" stroke="#333" stroke-width="1"/>
<line x1="140.5" y1="318.4" x2="140.5" y2="322.4" stroke="#333" stroke-width="1"/>
<circle cx="127" cy="316.4" r="1.25" fill="#1e1e1e"/>
<line x1="50" y1="357.5" x2="63.4" y2="357.5" stroke="#111" stroke-width="1"/>
<path d="M53.2 355.4 L55.51 359.36 L50.89 359.36 Z" fill="#111"/>
<path d="M57.2 355.9 L59.51 359.86 L54.89 359.86 Z" fill="#111"/>
<path d="M61 355.4 L63.31 359.36 L58.69 359.36 Z" fill="#111"/>
<line x1="79.5" y1="327.9" x2="79.5" y2="343.5" stroke="#5a1420" stroke-width="1"/>
<line x1="75.4" y1="327.5" x2="83.4" y2="327.5" stroke="#5a1420" stroke-width="1"/>
<line x1="75.4" y1="343.5" x2="83.4" y2="343.5" stroke="#5a1420" stroke-width="1"/>
<circle cx="79.4" cy="327.9" r="2.55" fill="#cf5a6a" stroke="#7a1626" stroke-width="1.1"/>
<circle cx="79.4" cy="334.8" r="2.55" fill="#cf5a6a" stroke="#7a1626" stroke-width="1.1"/>
<circle cx="79.4" cy="343.5" r="2.55" fill="#cf5a6a" stroke="#7a1626" stroke-width="1.1"/>
<line x1="72.2" y1="335.5" x2="87" y2="335.5" stroke="#3a1a22" stroke-width="1"/>
<line x1="110.4" y1="395.5" x2="124.9" y2="395.5" stroke="#111" stroke-width="1"/>
<path d="M113.5 393.5 L115.81 397.46 L111.19 397.46 Z" fill="#111"/>
<path d="M117.5 394.1 L119.81 398.06 L115.19 398.06 Z" fill="#111"/>
<path d="M121.5 393.5 L123.81 397.46 L119.19 397.46 Z" fill="#111"/>
<line x1="140.5" y1="372.9" x2="140.5" y2="386.3" stroke="#5a1420" stroke-width="1"/>
<line x1="136.1" y1="372.5" x2="144.1" y2="372.5" stroke="#5a1420" stroke-width="1"/>
<line x1="136.1" y1="386.5" x2="144.1" y2="386.5" stroke="#5a1420" stroke-width="1"/>
<circle cx="137.4" cy="373.2" r="2.55" fill="#cf5a6a" stroke="#7a1626" stroke-width="1.1"/>
<circle cx="142.8" cy="373.2" r="2.55" fill="#cf5a6a" stroke="#7a1626" stroke-width="1.1"/>
<circle cx="140.1" cy="386.6" r="2.55" fill="#cf5a6a" stroke="#7a1626" stroke-width="1.1"/>
<line x1="132.8" y1="377.5" x2="147.7" y2="377.5" stroke="#3a1a22" stroke-width="1"/>
<text x="176.8" y="313.2" font-size="14.3" font-weight="bold" fill="#000">D</text>
<line x1="212.5" y1="325.3" x2="212.5" y2="362.6" stroke="#111" stroke-width="1.25"/>
<line x1="209.6" y1="325.5" x2="212.7" y2="325.5" stroke="#111" stroke-width="1"/>
<text x="209.6" y="328.2" font-size="7.77" text-anchor="end" textLength="9.8" lengthAdjust="spacingAndGlyphs">60</text>
<line x1="209.6" y1="337.5" x2="212.7" y2="337.5" stroke="#111" stroke-width="1"/>
<text x="209.6" y="340.43" font-size="7.77" text-anchor="end" textLength="9.8" lengthAdjust="spacingAndGlyphs">50</text>
<line x1="209.6" y1="350.5" x2="212.7" y2="350.5" stroke="#111" stroke-width="1"/>
<text x="209.6" y="352.66" font-size="7.77" text-anchor="end" textLength="9.8" lengthAdjust="spacingAndGlyphs">40</text>
<line x1="209.6" y1="362.5" x2="212.7" y2="362.5" stroke="#111" stroke-width="1"/>
<text x="209.6" y="364.89" font-size="7.77" text-anchor="end" textLength="9.8" lengthAdjust="spacingAndGlyphs">30</text>
<line x1="210.6" y1="362.5" x2="214.4" y2="362.5" stroke="#111" stroke-width="1"/>
<line x1="212.5" y1="369.2" x2="212.5" y2="406.1" stroke="#111" stroke-width="1.25"/>
<line x1="210.6" y1="369.5" x2="214.4" y2="369.5" stroke="#111" stroke-width="1"/>
<line x1="209.6" y1="405.5" x2="212.7" y2="405.5" stroke="#111" stroke-width="1"/>
<text x="209.6" y="408.2" font-size="7.77" text-anchor="end">0</text>
<line x1="209.6" y1="398.5" x2="212.7" y2="398.5" stroke="#111" stroke-width="1"/>
<text x="209.6" y="400.92" font-size="7.77" text-anchor="end">1</text>
<line x1="209.6" y1="391.5" x2="212.7" y2="391.5" stroke="#111" stroke-width="1"/>
<text x="209.6" y="393.64" font-size="7.77" text-anchor="end">2</text>
<line x1="209.6" y1="383.5" x2="212.7" y2="383.5" stroke="#111" stroke-width="1"/>
<text x="209.6" y="386.36" font-size="7.77" text-anchor="end">3</text>
<line x1="209.6" y1="376.5" x2="212.7" y2="376.5" stroke="#111" stroke-width="1"/>
<text x="209.6" y="379.08" font-size="7.77" text-anchor="end">4</text>
<line x1="209.6" y1="369.5" x2="212.7" y2="369.5" stroke="#111" stroke-width="1"/>
<text x="209.6" y="371.8" font-size="7.77" text-anchor="end">5</text>
<line x1="212.2" y1="405.5" x2="333.5" y2="405.5" stroke="#111" stroke-width="1.25"/>
<line x1="243.5" y1="405.6" x2="243.5" y2="408.1" stroke="#111" stroke-width="1"/>
<line x1="303.5" y1="405.6" x2="303.5" y2="408.1" stroke="#111" stroke-width="1"/>
<text x="243" y="416.8" font-size="7.77" text-anchor="middle" textLength="26.2" lengthAdjust="spacingAndGlyphs">Control</text>
<text x="303.4" y="416.8" font-size="7.77" text-anchor="middle" textLength="34" lengthAdjust="spacingAndGlyphs">Pre-entry</text>
<text x="192.4" y="364.9" font-size="7.88" text-anchor="middle" textLength="30.7" lengthAdjust="spacingAndGlyphs" transform="rotate(-90 192.4 364.9)">% EGFP</text>
<line x1="225.7" y1="324.5" x2="256.5" y2="324.5" stroke="#333" stroke-width="1"/>
<line x1="225.5" y1="322.6" x2="225.5" y2="326.6" stroke="#333" stroke-width="1"/>
<line x1="256.5" y1="322.6" x2="256.5" y2="326.6" stroke="#333" stroke-width="1"/>
<circle cx="235.15" cy="317.9" r="1.25" fill="#1e1e1e"/>
<circle cx="239.05" cy="317.9" r="1.25" fill="#1e1e1e"/>
<circle cx="242.95" cy="317.9" r="1.25" fill="#1e1e1e"/>
<circle cx="246.85" cy="317.9" r="1.25" fill="#1e1e1e"/>
<line x1="287" y1="324.5" x2="317.1" y2="324.5" stroke="#333" stroke-width="1"/>
<line x1="287.5" y1="322.4" x2="287.5" y2="326.4" stroke="#333" stroke-width="1"/>
<line x1="317.5" y1="322.4" x2="317.5" y2="326.4" stroke="#333" stroke-width="1"/>
<text x="302" y="320.5" font-size="7.35" text-anchor="middle" textLength="12" lengthAdjust="spacingAndGlyphs">n.s.</text>
<line x1="225" y1="354.5" x2="239.2" y2="354.5" stroke="#111" stroke-width="1"/>
<path d="M229 353.4 L231.31 357.36 L226.69 357.36 Z" fill="#111"/>
<path d="M235 352 L237.31 355.96 L232.69 355.96 Z" fill="#111"/>
<circle cx="251.6" cy="330.8" r="2.55" fill="#cf5a6a" stroke="#7a1626" stroke-width="1.1"/>
<circle cx="257.4" cy="330.8" r="2.55" fill="#cf5a6a" stroke="#7a1626" stroke-width="1.1"/>
<line x1="247.2" y1="330.5" x2="262" y2="330.5" stroke="#3a1a22" stroke-width="1"/>
<line x1="284.5" y1="388.5" x2="300.4" y2="388.5" stroke="#111" stroke-width="1"/>
<path d="M289.4 388.2 L291.71 392.16 L287.09 392.16 Z" fill="#111"/>
<path d="M295.5 386.2 L297.81 390.16 L293.19 390.16 Z" fill="#111"/>
<circle cx="311.9" cy="389.4" r="2.55" fill="#cf5a6a" stroke="#7a1626" stroke-width="1.1"/>
<circle cx="318.3" cy="384.5" r="2.55" fill="#cf5a6a" stroke="#7a1626" stroke-width="1.1"/>
<line x1="307.6" y1="386.5" x2="322.9" y2="386.5" stroke="#3a1a22" stroke-width="1"/>
<text x="358.8" y="313.6" font-size="14.3" font-weight="bold" fill="#000">E</text>
<line x1="397.5" y1="325.1" x2="397.5" y2="406.7" stroke="#111" stroke-width="1.25"/>
<line x1="394.9" y1="406.5" x2="397.93" y2="406.5" stroke="#111" stroke-width="1.25"/>
<text x="394.6" y="408.9" font-size="7.88" text-anchor="end">0</text>
<line x1="394.9" y1="379.5" x2="397.93" y2="379.5" stroke="#111" stroke-width="1.25"/>
<text x="394.6" y="382.03" font-size="7.88" text-anchor="end">5</text>
<line x1="394.9" y1="352.5" x2="397.93" y2="352.5" stroke="#111" stroke-width="1.25"/>
<text x="394.6" y="355.17" font-size="7.88" text-anchor="end">10</text>
<line x1="394.9" y1="325.5" x2="397.93" y2="325.5" stroke="#111" stroke-width="1.25"/>
<text x="394.6" y="328.31" font-size="7.88" text-anchor="end">15</text>
<line x1="397.3" y1="406.5" x2="516" y2="406.5" stroke="#111" stroke-width="1.25"/>
<line x1="412.5" y1="403.9" x2="412.5" y2="403.2" stroke="#111" stroke-width="1"/>
<line x1="407.5" y1="403.5" x2="417.5" y2="403.5" stroke="#111" stroke-width="1"/>
<rect x="402.5" y="403.5" width="20" height="3" fill="#222" stroke="#111" stroke-width="1.25"/>
<line x1="412.5" y1="406.2" x2="412.5" y2="408.7" stroke="#111" stroke-width="1"/>
<line x1="442.5" y1="396.7" x2="442.5" y2="393.5" stroke="#111" stroke-width="1"/>
<line x1="437.9" y1="393.5" x2="447.9" y2="393.5" stroke="#111" stroke-width="1"/>
<rect x="432.5" y="396.5" width="21" height="10" fill="#fff" stroke="#111" stroke-width="1.1"/>
<line x1="442.5" y1="406.2" x2="442.5" y2="408.7" stroke="#111" stroke-width="1"/>
<line x1="472.5" y1="381.4" x2="472.5" y2="372.5" stroke="#333" stroke-width="1"/>
<line x1="467.9" y1="372.5" x2="477.9" y2="372.5" stroke="#333" stroke-width="1"/>
<rect x="462.5" y="381.5" width="21" height="25" fill="#f26464" stroke="#7a1414" stroke-width="1.1"/>
<line x1="472.5" y1="406.2" x2="472.5" y2="408.7" stroke="#111" stroke-width="1"/>
<line x1="503.5" y1="338.4" x2="503.5" y2="330.2" stroke="#333" stroke-width="1"/>
<line x1="498.4" y1="330.5" x2="508.4" y2="330.5" stroke="#333" stroke-width="1"/>
<rect x="493.5" y="338.5" width="20" height="68" fill="#f26464" stroke="#7a1414" stroke-width="1.1"/>
<line x1="503.5" y1="406.2" x2="503.5" y2="408.7" stroke="#111" stroke-width="1"/>
<line x1="441.4" y1="325.5" x2="503.3" y2="325.5" stroke="#333" stroke-width="1"/>
<line x1="441.5" y1="323.3" x2="441.5" y2="327.3" stroke="#333" stroke-width="1"/>
<line x1="503.5" y1="323.3" x2="503.5" y2="327.3" stroke="#333" stroke-width="1"/>
<circle cx="467.05" cy="320.9" r="1.25" fill="#1e1e1e"/>
<circle cx="470.95" cy="320.9" r="1.25" fill="#1e1e1e"/>
<circle cx="474.85" cy="320.9" r="1.25" fill="#1e1e1e"/>
<circle cx="478.75" cy="320.9" r="1.25" fill="#1e1e1e"/>
<line x1="441.4" y1="339.5" x2="470.2" y2="339.5" stroke="#333" stroke-width="1"/>
<line x1="441.5" y1="337.1" x2="441.5" y2="341.1" stroke="#333" stroke-width="1"/>
<line x1="470.5" y1="337.1" x2="470.5" y2="341.1" stroke="#333" stroke-width="1"/>
<circle cx="458.6" cy="334.3" r="1.25" fill="#1e1e1e"/>
<text x="412.6" y="417.2" font-size="7.77" text-anchor="middle" textLength="20.2" lengthAdjust="spacingAndGlyphs">mock</text>
<text x="442.5" y="417.2" font-size="7.77" text-anchor="middle">0</text>
<text x="472.9" y="417.2" font-size="7.77" text-anchor="middle">10</text>
<text x="503" y="417.2" font-size="7.77" text-anchor="middle">20</text>
<text x="458" y="428.5" font-size="7.77" text-anchor="middle" textLength="45.5" lengthAdjust="spacingAndGlyphs">Rapa (ug/ml)</text>
<text x="377.3" y="365.5" font-size="7.88" text-anchor="middle" textLength="28.2" lengthAdjust="spacingAndGlyphs" transform="rotate(-90 377.3 365.5)">% CCF4</text>
<text x="0.8" y="446.7" font-size="14.3" font-weight="bold" fill="#000">F</text>
<text x="62.6" y="446.5" font-size="10.3" textLength="40.8" lengthAdjust="spacingAndGlyphs">Early RT</text>
<line x1="37.5" y1="472.9" x2="37.5" y2="555.3" stroke="#111" stroke-width="1.25"/>
<line x1="34.9" y1="554.5" x2="37.92" y2="554.5" stroke="#111" stroke-width="1.25"/>
<text x="34" y="557.5" font-size="7.88" text-anchor="end">0</text>
<line x1="34.9" y1="538.5" x2="37.92" y2="538.5" stroke="#111" stroke-width="1.25"/>
<text x="34" y="541.18" font-size="7.88" text-anchor="end">1</text>
<line x1="34.9" y1="522.5" x2="37.92" y2="522.5" stroke="#111" stroke-width="1.25"/>
<text x="34" y="524.86" font-size="7.88" text-anchor="end">2</text>
<line x1="34.9" y1="505.5" x2="37.92" y2="505.5" stroke="#111" stroke-width="1.25"/>
<text x="34" y="508.54" font-size="7.88" text-anchor="end">3</text>
<line x1="34.9" y1="489.5" x2="37.92" y2="489.5" stroke="#111" stroke-width="1.25"/>
<text x="34" y="492.22" font-size="7.88" text-anchor="end">4</text>
<line x1="34.9" y1="473.5" x2="37.92" y2="473.5" stroke="#111" stroke-width="1.25"/>
<text x="34" y="475.9" font-size="7.88" text-anchor="end">5</text>
<line x1="37.3" y1="554.5" x2="160.8" y2="554.5" stroke="#111" stroke-width="1.25"/>
<line x1="58.5" y1="554.8" x2="58.5" y2="557.3" stroke="#111" stroke-width="1"/>
<text x="58.1" y="566" font-size="7.56" text-anchor="middle">6</text>
<line x1="99.5" y1="554.8" x2="99.5" y2="557.3" stroke="#111" stroke-width="1"/>
<text x="99.5" y="566" font-size="7.56" text-anchor="middle">12</text>
<line x1="140.5" y1="554.8" x2="140.5" y2="557.3" stroke="#111" stroke-width="1"/>
<text x="140.2" y="566" font-size="7.56" text-anchor="middle">24</text>
<text x="99.6" y="577.2" font-size="7.77" text-anchor="middle" textLength="79.2" lengthAdjust="spacingAndGlyphs">Hours post LV addition</text>
<text x="15.6" y="512.1" font-size="7.56" text-anchor="middle" textLength="51.6" lengthAdjust="spacingAndGlyphs" transform="rotate(-90 15.6 512.1)">Fold change in</text>
<text x="24.8" y="511.9" font-size="7.56" text-anchor="middle" textLength="47.6" lengthAdjust="spacingAndGlyphs" transform="rotate(-90 24.8 511.9)">LV copies/cell</text>
<path d="M67.5 472.5 L67.5 468.5 L148.5 468.5 L148.5 471.5" stroke="#a8404f" stroke-width="1" fill="none"/>
<path d="M49.5 475.8 L49.5 472.5 L130.5 472.5 L130.5 475.8" stroke="#3a3a3a" stroke-width="1" fill="none"/>
<path d="M87.5 472.5 L87.5 462.5 L103.5 462.5 L103.5 468.5" stroke="#3a3a3a" stroke-width="1" fill="none"/>
<circle cx="95.4" cy="457.8" r="1.25" fill="#1e1e1e"/>
<rect x="45.5" y="538.5" width="10" height="0.01" fill="none" stroke="#111" stroke-width="1.2"/>
<circle cx="47.4" cy="538.4" r="2.15" fill="#111"/>
<circle cx="50.4" cy="538.4" r="2.15" fill="#111"/>
<circle cx="53.4" cy="538.4" r="2.15" fill="#111"/>
<line x1="65.5" y1="504.2" x2="65.5" y2="499" stroke="#742232" stroke-width="1"/>
<line x1="62.95" y1="499.5" x2="68.95" y2="499.5" stroke="#e0606e" stroke-width="1"/>
<rect x="60.5" y="504.5" width="11" height="33" fill="none" stroke="#742232" stroke-width="1.2"/>
<line x1="60.4" y1="528.5" x2="71.5" y2="528.5" stroke="#742232" stroke-width="1.2"/>
<circle cx="65.9" cy="499" r="2.15" fill="#e0606e"/>
<circle cx="65.8" cy="521.9" r="2.15" fill="#e0606e"/>
<circle cx="68.1" cy="533.9" r="2.15" fill="#e0606e"/>
<circle cx="63.5" cy="538.2" r="2.15" fill="#e0606e"/>
<line x1="91.5" y1="521.2" x2="91.5" y2="518.8" stroke="#111" stroke-width="1"/>
<line x1="88.7" y1="518.5" x2="94.7" y2="518.5" stroke="#111" stroke-width="1"/>
<line x1="91.5" y1="537.3" x2="91.5" y2="540.3" stroke="#111" stroke-width="1"/>
<line x1="88.7" y1="540.5" x2="94.7" y2="540.5" stroke="#111" stroke-width="1"/>
<rect x="86.5" y="521.5" width="11" height="16" fill="none" stroke="#111" stroke-width="1.2"/>
<line x1="86.2" y1="529.5" x2="97.2" y2="529.5" stroke="#111" stroke-width="1.2"/>
<circle cx="91.7" cy="518.8" r="2.15" fill="#111"/>
<circle cx="88.1" cy="526.5" r="2.15" fill="#111"/>
<circle cx="94.2" cy="530.7" r="2.15" fill="#111"/>
<circle cx="91.7" cy="540.3" r="2.15" fill="#111"/>
<line x1="106.5" y1="486.5" x2="106.5" y2="482.8" stroke="#742232" stroke-width="1"/>
<line x1="103.75" y1="482.5" x2="109.75" y2="482.5" stroke="#e0606e" stroke-width="1"/>
<line x1="106.5" y1="527.3" x2="106.5" y2="532.6" stroke="#742232" stroke-width="1"/>
<line x1="103.75" y1="532.5" x2="109.75" y2="532.5" stroke="#e0606e" stroke-width="1"/>
<rect x="101.5" y="486.5" width="10" height="41" fill="none" stroke="#742232" stroke-width="1.2"/>
<line x1="101.6" y1="503.5" x2="111.9" y2="503.5" stroke="#742232" stroke-width="1.2"/>
<circle cx="106.8" cy="482.8" r="2.15" fill="#e0606e"/>
<circle cx="106.8" cy="494.8" r="2.15" fill="#e0606e"/>
<circle cx="106.8" cy="513.2" r="2.15" fill="#e0606e"/>
<circle cx="106.8" cy="532.6" r="2.15" fill="#e0606e"/>
<rect x="128.5" y="540.5" width="9" height="5" fill="none" stroke="#111" stroke-width="1.2"/>
<line x1="128.6" y1="543.5" x2="137.8" y2="543.5" stroke="#111" stroke-width="1.2"/>
<circle cx="129" cy="543.2" r="2.15" fill="#111"/>
<circle cx="131.6" cy="541.3" r="2.15" fill="#111"/>
<circle cx="134.2" cy="546" r="2.15" fill="#111"/>
<circle cx="136.6" cy="543" r="2.15" fill="#111"/>
<line x1="148.5" y1="523.8" x2="148.5" y2="521.4" stroke="#742232" stroke-width="1"/>
<line x1="145.1" y1="521.5" x2="151.1" y2="521.5" stroke="#e0606e" stroke-width="1"/>
<rect x="142.5" y="523.5" width="11" height="17" fill="none" stroke="#742232" stroke-width="1.2"/>
<line x1="142.6" y1="533.5" x2="153.6" y2="533.5" stroke="#742232" stroke-width="1.2"/>
<circle cx="148.1" cy="521.4" r="2.15" fill="#e0606e"/>
<circle cx="148.1" cy="527.2" r="2.15" fill="#e0606e"/>
<circle cx="145.2" cy="540.2" r="2.15" fill="#e0606e"/>
<circle cx="151" cy="538.6" r="2.15" fill="#e0606e"/>
<text x="222.1" y="447" font-size="10.3" textLength="37.8" lengthAdjust="spacingAndGlyphs">Late RT</text>
<line x1="195.5" y1="472.9" x2="195.5" y2="554.8" stroke="#111" stroke-width="1.25"/>
<line x1="193.2" y1="554.5" x2="196.22" y2="554.5" stroke="#111" stroke-width="1.25"/>
<text x="192.4" y="557" font-size="7.88" text-anchor="end">0</text>
<line x1="193.2" y1="538.5" x2="196.22" y2="538.5" stroke="#111" stroke-width="1.25"/>
<text x="192.4" y="540.78" font-size="7.88" text-anchor="end">1</text>
<line x1="193.2" y1="521.5" x2="196.22" y2="521.5" stroke="#111" stroke-width="1.25"/>
<text x="192.4" y="524.56" font-size="7.88" text-anchor="end">2</text>
<line x1="193.2" y1="505.5" x2="196.22" y2="505.5" stroke="#111" stroke-width="1.25"/>
<text x="192.4" y="508.34" font-size="7.88" text-anchor="end">3</text>
<line x1="193.2" y1="489.5" x2="196.22" y2="489.5" stroke="#111" stroke-width="1.25"/>
<text x="192.4" y="492.12" font-size="7.88" text-anchor="end">4</text>
<line x1="193.2" y1="473.5" x2="196.22" y2="473.5" stroke="#111" stroke-width="1.25"/>
<text x="192.4" y="475.9" font-size="7.88" text-anchor="end">5</text>
<line x1="195.6" y1="554.5" x2="316" y2="554.5" stroke="#111" stroke-width="1.25"/>
<line x1="215.5" y1="554.3" x2="215.5" y2="556.8" stroke="#111" stroke-width="1"/>
<text x="215" y="565.6" font-size="7.56" text-anchor="middle">6</text>
<line x1="256.5" y1="554.3" x2="256.5" y2="556.8" stroke="#111" stroke-width="1"/>
<text x="256.7" y="565.6" font-size="7.56" text-anchor="middle">12</text>
<line x1="296.5" y1="554.3" x2="296.5" y2="556.8" stroke="#111" stroke-width="1"/>
<text x="296.3" y="565.6" font-size="7.56" text-anchor="middle">24</text>
<path d="M225.5 473.5 L225.5 468.5 L305.5 468.5 L305.5 472" stroke="#a8404f" stroke-width="1" fill="none"/>
<path d="M207.5 476.3 L207.5 473.5 L287.5 473.5 L287.5 476.3" stroke="#3a3a3a" stroke-width="1" fill="none"/>
<path d="M244.5 473.5 L244.5 462.5 L260.5 462.5 L260.5 468.5" stroke="#3a3a3a" stroke-width="1" fill="none"/>
<circle cx="251.85" cy="458.2" r="1.25" fill="#1e1e1e"/>
<circle cx="255.75" cy="458.2" r="1.25" fill="#1e1e1e"/>
<rect x="203.5" y="537.5" width="9" height="1" fill="none" stroke="#111" stroke-width="1.2"/>
<circle cx="204.6" cy="537.9" r="2.15" fill="#111"/>
<circle cx="207.8" cy="537.9" r="2.15" fill="#111"/>
<circle cx="211" cy="537.9" r="2.15" fill="#111"/>
<rect x="217.5" y="502.5" width="11" height="35" fill="none" stroke="#742232" stroke-width="1.2"/>
<line x1="217.3" y1="519.5" x2="228.5" y2="519.5" stroke="#742232" stroke-width="1.2"/>
<circle cx="219.6" cy="502.3" r="2.15" fill="#e0606e"/>
<circle cx="226.2" cy="502.6" r="2.15" fill="#e0606e"/>
<circle cx="219.6" cy="537.4" r="2.15" fill="#e0606e"/>
<circle cx="226.2" cy="537" r="2.15" fill="#e0606e"/>
<line x1="248.5" y1="519.6" x2="248.5" y2="515.8" stroke="#111" stroke-width="1"/>
<line x1="245.65" y1="515.5" x2="251.65" y2="515.5" stroke="#111" stroke-width="1"/>
<line x1="248.5" y1="536.2" x2="248.5" y2="538.4" stroke="#111" stroke-width="1"/>
<line x1="245.65" y1="538.5" x2="251.65" y2="538.5" stroke="#111" stroke-width="1"/>
<rect x="243.5" y="519.5" width="10" height="17" fill="none" stroke="#111" stroke-width="1.2"/>
<line x1="243.5" y1="528.5" x2="253.8" y2="528.5" stroke="#111" stroke-width="1.2"/>
<circle cx="248.6" cy="515.8" r="2.15" fill="#111"/>
<circle cx="245.8" cy="527.8" r="2.15" fill="#111"/>
<circle cx="251.6" cy="528.4" r="2.15" fill="#111"/>
<circle cx="248.6" cy="538.4" r="2.15" fill="#111"/>
<line x1="264.5" y1="488.5" x2="264.5" y2="483.5" stroke="#742232" stroke-width="1"/>
<line x1="261" y1="483.5" x2="267" y2="483.5" stroke="#e0606e" stroke-width="1"/>
<line x1="264.5" y1="523.9" x2="264.5" y2="531.6" stroke="#742232" stroke-width="1"/>
<line x1="261" y1="531.5" x2="267" y2="531.5" stroke="#e0606e" stroke-width="1"/>
<rect x="258.5" y="488.5" width="11" height="35" fill="none" stroke="#742232" stroke-width="1.2"/>
<line x1="258.4" y1="500.5" x2="269.6" y2="500.5" stroke="#742232" stroke-width="1.2"/>
<circle cx="264" cy="483.5" r="2.15" fill="#e0606e"/>
<circle cx="261.3" cy="500.3" r="2.15" fill="#e0606e"/>
<circle cx="265.8" cy="500.7" r="2.15" fill="#e0606e"/>
<circle cx="264" cy="531.6" r="2.15" fill="#e0606e"/>
<line x1="289.5" y1="531.4" x2="289.5" y2="526.6" stroke="#111" stroke-width="1"/>
<line x1="286.5" y1="526.5" x2="292.5" y2="526.5" stroke="#111" stroke-width="1"/>
<rect x="284.5" y="531.5" width="10" height="17" fill="none" stroke="#111" stroke-width="1.2"/>
<line x1="284.6" y1="542.5" x2="294.4" y2="542.5" stroke="#111" stroke-width="1.2"/>
<circle cx="289.4" cy="526.6" r="2.15" fill="#111"/>
<circle cx="286.2" cy="545.6" r="2.15" fill="#111"/>
<circle cx="291.2" cy="547" r="2.15" fill="#111"/>
<circle cx="289" cy="543.4" r="2.15" fill="#111"/>
<line x1="304.5" y1="498.3" x2="304.5" y2="491.6" stroke="#742232" stroke-width="1"/>
<line x1="301.9" y1="491.5" x2="307.9" y2="491.5" stroke="#e0606e" stroke-width="1"/>
<rect x="299.5" y="498.5" width="11" height="46" fill="none" stroke="#742232" stroke-width="1.2"/>
<line x1="299.8" y1="527.5" x2="310" y2="527.5" stroke="#742232" stroke-width="1.2"/>
<circle cx="304.8" cy="491.6" r="2.15" fill="#e0606e"/>
<circle cx="304.8" cy="517.1" r="2.15" fill="#e0606e"/>
<circle cx="304.8" cy="540" r="2.15" fill="#e0606e"/>
<circle cx="304.8" cy="545.3" r="2.15" fill="#e0606e"/>
<text x="390" y="447.5" font-size="10.3" textLength="29.1" lengthAdjust="spacingAndGlyphs">2-LTR</text>
<line x1="363.5" y1="472.2" x2="363.5" y2="554.5" stroke="#111" stroke-width="1.25"/>
<line x1="360.8" y1="554.5" x2="363.82" y2="554.5" stroke="#111" stroke-width="1.25"/>
<text x="359.6" y="556.7" font-size="7.88" text-anchor="end">0</text>
<line x1="360.8" y1="526.5" x2="363.82" y2="526.5" stroke="#111" stroke-width="1.25"/>
<text x="359.6" y="529.5" font-size="7.88" text-anchor="end">20</text>
<line x1="360.8" y1="499.5" x2="363.82" y2="499.5" stroke="#111" stroke-width="1.25"/>
<text x="359.6" y="502.3" font-size="7.88" text-anchor="end">40</text>
<line x1="360.8" y1="472.5" x2="363.82" y2="472.5" stroke="#111" stroke-width="1.25"/>
<text x="359.6" y="475.1" font-size="7.88" text-anchor="end">60</text>
<line x1="363.2" y1="554.5" x2="485" y2="554.5" stroke="#111" stroke-width="1.25"/>
<line x1="383.5" y1="554" x2="383.5" y2="556.5" stroke="#111" stroke-width="1"/>
<text x="383.3" y="565.6" font-size="7.56" text-anchor="middle">6</text>
<line x1="425.5" y1="554" x2="425.5" y2="556.5" stroke="#111" stroke-width="1"/>
<text x="425.4" y="565.6" font-size="7.56" text-anchor="middle">12</text>
<line x1="464.5" y1="554" x2="464.5" y2="556.5" stroke="#111" stroke-width="1"/>
<text x="464.6" y="565.6" font-size="7.56" text-anchor="middle">24</text>
<line x1="457.5" y1="481.5" x2="473" y2="481.5" stroke="#333" stroke-width="1"/>
<line x1="457.5" y1="479.2" x2="457.5" y2="483.2" stroke="#333" stroke-width="1"/>
<line x1="473.5" y1="479.2" x2="473.5" y2="483.2" stroke="#333" stroke-width="1"/>
<circle cx="463.05" cy="475.3" r="1.25" fill="#1e1e1e"/>
<circle cx="466.95" cy="475.3" r="1.25" fill="#1e1e1e"/>
<circle cx="371.8" cy="552.8" r="1.9" fill="#111"/>
<circle cx="374.5" cy="552.8" r="1.9" fill="#111"/>
<circle cx="377.2" cy="552.8" r="1.9" fill="#111"/>
<circle cx="379.8" cy="552.8" r="1.9" fill="#111"/>
<rect x="388.5" y="551.5" width="5" height="3" fill="none" stroke="#742232" stroke-width="1.2"/>
<line x1="388.2" y1="553.5" x2="393.8" y2="553.5" stroke="#742232" stroke-width="1.2"/>
<circle cx="391" cy="553" r="1.6" fill="#e0606e"/>
<rect x="411.5" y="540.5" width="10" height="9" fill="none" stroke="#111" stroke-width="1.2"/>
<line x1="411.3" y1="545.5" x2="421.3" y2="545.5" stroke="#111" stroke-width="1.2"/>
<circle cx="417" cy="539.6" r="2.15" fill="#111"/>
<circle cx="412.6" cy="545" r="2.15" fill="#111"/>
<circle cx="416.8" cy="550.4" r="2.15" fill="#111"/>
<rect x="426.5" y="541.5" width="11" height="9" fill="none" stroke="#742232" stroke-width="1.2"/>
<line x1="426.3" y1="545.5" x2="437" y2="545.5" stroke="#742232" stroke-width="1.2"/>
<circle cx="432" cy="541.3" r="2.15" fill="#e0606e"/>
<circle cx="431.5" cy="547.3" r="2.15" fill="#e0606e"/>
<circle cx="428.5" cy="549.5" r="2.15" fill="#e0606e"/>
<rect x="452.5" y="531.5" width="10" height="11" fill="none" stroke="#111" stroke-width="1.2"/>
<line x1="452.5" y1="536.5" x2="462" y2="536.5" stroke="#111" stroke-width="1.2"/>
<circle cx="458" cy="530.1" r="2.15" fill="#111"/>
<circle cx="453.8" cy="535.5" r="2.15" fill="#111"/>
<circle cx="460" cy="538.8" r="2.15" fill="#111"/>
<circle cx="454.6" cy="542.4" r="2.15" fill="#111"/>
<line x1="473.5" y1="490.5" x2="473.5" y2="487.2" stroke="#742232" stroke-width="1"/>
<line x1="470" y1="487.5" x2="476" y2="487.5" stroke="#e0606e" stroke-width="1"/>
<rect x="468.5" y="490.5" width="10" height="48" fill="none" stroke="#742232" stroke-width="1.2"/>
<line x1="468" y1="515.5" x2="478" y2="515.5" stroke="#742232" stroke-width="1.2"/>
<circle cx="473" cy="487.2" r="2.15" fill="#e0606e"/>
<circle cx="470" cy="531.3" r="2.15" fill="#e0606e"/>
<circle cx="475.5" cy="528" r="2.15" fill="#e0606e"/>
<circle cx="473" cy="538.6" r="2.15" fill="#e0606e"/>
<text x="1" y="608.8" font-size="14.3" font-weight="bold" fill="#000">G</text>
<text x="73" y="608.6" font-size="10.3" textLength="70" lengthAdjust="spacingAndGlyphs">Late / Early RT</text>
<line x1="46.5" y1="615.2" x2="46.5" y2="697.5" stroke="#111" stroke-width="1.25"/>
<line x1="44.5" y1="697.5" x2="47.52" y2="697.5" stroke="#111" stroke-width="1.25"/>
<text x="43.8" y="699.7" font-size="7.88" text-anchor="end">0</text>
<line x1="44.5" y1="676.5" x2="47.52" y2="676.5" stroke="#111" stroke-width="1.25"/>
<text x="43.8" y="679.38" font-size="7.88" text-anchor="end">20</text>
<line x1="44.5" y1="656.5" x2="47.52" y2="656.5" stroke="#111" stroke-width="1.25"/>
<text x="43.8" y="659.06" font-size="7.88" text-anchor="end">40</text>
<line x1="44.5" y1="636.5" x2="47.52" y2="636.5" stroke="#111" stroke-width="1.25"/>
<text x="43.8" y="638.74" font-size="7.88" text-anchor="end">60</text>
<line x1="44.5" y1="615.5" x2="47.52" y2="615.5" stroke="#111" stroke-width="1.25"/>
<text x="43.8" y="618.42" font-size="7.88" text-anchor="end">80</text>
<line x1="46.9" y1="697.5" x2="170.3" y2="697.5" stroke="#111" stroke-width="1.25"/>
<line x1="68.5" y1="697" x2="68.5" y2="699.5" stroke="#111" stroke-width="1"/>
<text x="68.3" y="707.3" font-size="7.56" text-anchor="middle">6</text>
<line x1="109.5" y1="697" x2="109.5" y2="699.5" stroke="#111" stroke-width="1"/>
<text x="109.2" y="707.3" font-size="7.56" text-anchor="middle">12</text>
<line x1="150.5" y1="697" x2="150.5" y2="699.5" stroke="#111" stroke-width="1"/>
<text x="150" y="707.3" font-size="7.56" text-anchor="middle">24</text>
<text x="109.3" y="719.2" font-size="7.77" text-anchor="middle" textLength="80.2" lengthAdjust="spacingAndGlyphs">Hours post LV addition</text>
<text x="18.6" y="645.6" font-size="7.56" text-anchor="middle" textLength="30.5" lengthAdjust="spacingAndGlyphs" transform="rotate(-90 18.6 645.6)">Early RT</text>
<text x="29.1" y="645.8" font-size="7.56" text-anchor="middle" textLength="48" lengthAdjust="spacingAndGlyphs" transform="rotate(-90 29.1 645.8)">% of Early RT</text>
<line x1="60.5" y1="640.5" x2="60.5" y2="637.7" stroke="#111" stroke-width="1"/>
<line x1="57.25" y1="637.5" x2="63.25" y2="637.5" stroke="#111" stroke-width="1"/>
<line x1="60.5" y1="676.2" x2="60.5" y2="685.4" stroke="#111" stroke-width="1"/>
<line x1="57.25" y1="685.5" x2="63.25" y2="685.5" stroke="#111" stroke-width="1"/>
<rect x="55.5" y="640.5" width="10" height="36" fill="none" stroke="#111" stroke-width="1.2"/>
<line x1="55" y1="646.5" x2="65.5" y2="646.5" stroke="#111" stroke-width="1.2"/>
<circle cx="60.2" cy="637.7" r="2.15" fill="#111"/>
<circle cx="57.6" cy="646.2" r="2.15" fill="#111"/>
<circle cx="63.2" cy="648.2" r="2.15" fill="#111"/>
<circle cx="60.2" cy="685.4" r="2.15" fill="#111"/>
<line x1="75.5" y1="642.3" x2="75.5" y2="641.5" stroke="#742232" stroke-width="1"/>
<line x1="72.8" y1="641.5" x2="78.8" y2="641.5" stroke="#e0606e" stroke-width="1"/>
<line x1="75.5" y1="673.1" x2="75.5" y2="679.5" stroke="#742232" stroke-width="1"/>
<line x1="72.8" y1="679.5" x2="78.8" y2="679.5" stroke="#e0606e" stroke-width="1"/>
<rect x="70.5" y="642.5" width="11" height="31" fill="none" stroke="#742232" stroke-width="1.2"/>
<line x1="70.4" y1="650.5" x2="81.2" y2="650.5" stroke="#742232" stroke-width="1.2"/>
<circle cx="78.1" cy="641.4" r="2.15" fill="#e0606e"/>
<circle cx="73" cy="646.2" r="2.15" fill="#e0606e"/>
<circle cx="75.8" cy="654.6" r="2.15" fill="#e0606e"/>
<circle cx="75.8" cy="679.5" r="2.15" fill="#e0606e"/>
<line x1="101.5" y1="674.6" x2="101.5" y2="681.5" stroke="#111" stroke-width="1"/>
<line x1="98.35" y1="681.5" x2="104.35" y2="681.5" stroke="#111" stroke-width="1"/>
<rect x="96.5" y="643.5" width="10" height="31" fill="none" stroke="#111" stroke-width="1.2"/>
<line x1="96.2" y1="649.5" x2="106.5" y2="649.5" stroke="#111" stroke-width="1.2"/>
<circle cx="98.1" cy="645.4" r="2.15" fill="#111"/>
<circle cx="104.2" cy="642.6" r="2.15" fill="#111"/>
<circle cx="101.6" cy="653.8" r="2.15" fill="#111"/>
<circle cx="101.4" cy="681.5" r="2.15" fill="#111"/>
<line x1="116.5" y1="641.1" x2="116.5" y2="639.3" stroke="#742232" stroke-width="1"/>
<line x1="113.75" y1="639.5" x2="119.75" y2="639.5" stroke="#e0606e" stroke-width="1"/>
<line x1="116.5" y1="674.9" x2="116.5" y2="682.3" stroke="#742232" stroke-width="1"/>
<line x1="113.75" y1="682.5" x2="119.75" y2="682.5" stroke="#e0606e" stroke-width="1"/>
<rect x="111.5" y="641.5" width="10" height="33" fill="none" stroke="#742232" stroke-width="1.2"/>
<line x1="111.6" y1="648.5" x2="121.9" y2="648.5" stroke="#742232" stroke-width="1.2"/>
<circle cx="116.7" cy="639.3" r="2.15" fill="#e0606e"/>
<circle cx="116.7" cy="644.9" r="2.15" fill="#e0606e"/>
<circle cx="116.7" cy="652.3" r="2.15" fill="#e0606e"/>
<circle cx="116.7" cy="682.3" r="2.15" fill="#e0606e"/>
<line x1="142.5" y1="641.4" x2="142.5" y2="639.7" stroke="#111" stroke-width="1"/>
<line x1="139.45" y1="639.5" x2="145.45" y2="639.5" stroke="#111" stroke-width="1"/>
<line x1="142.5" y1="674.6" x2="142.5" y2="677" stroke="#111" stroke-width="1"/>
<line x1="139.45" y1="677.5" x2="145.45" y2="677.5" stroke="#111" stroke-width="1"/>
<rect x="137.5" y="641.5" width="10" height="33" fill="none" stroke="#111" stroke-width="1.2"/>
<line x1="137.1" y1="657.5" x2="147.8" y2="657.5" stroke="#111" stroke-width="1.2"/>
<circle cx="142.4" cy="639.7" r="2.15" fill="#111"/>
<circle cx="142.4" cy="646" r="2.15" fill="#111"/>
<circle cx="142.4" cy="668.8" r="2.15" fill="#111"/>
<circle cx="142.4" cy="677" r="2.15" fill="#111"/>
<line x1="157.5" y1="644.5" x2="157.5" y2="641.6" stroke="#742232" stroke-width="1"/>
<line x1="154.55" y1="641.5" x2="160.55" y2="641.5" stroke="#e0606e" stroke-width="1"/>
<line x1="157.5" y1="668.8" x2="157.5" y2="671.7" stroke="#742232" stroke-width="1"/>
<line x1="154.55" y1="671.5" x2="160.55" y2="671.5" stroke="#e0606e" stroke-width="1"/>
<rect x="152.5" y="644.5" width="10" height="24" fill="none" stroke="#742232" stroke-width="1.2"/>
<line x1="152.3" y1="656.5" x2="162.8" y2="656.5" stroke="#742232" stroke-width="1.2"/>
<circle cx="157.5" cy="641.6" r="2.15" fill="#e0606e"/>
<circle cx="157.5" cy="652.1" r="2.15" fill="#e0606e"/>
<circle cx="157.5" cy="660.2" r="2.15" fill="#e0606e"/>
<circle cx="157.5" cy="671.7" r="2.15" fill="#e0606e"/>
<text x="252.5" y="608.7" font-size="10.3" textLength="73.5" lengthAdjust="spacingAndGlyphs">2-LTR / Late RT</text>
<line x1="223.5" y1="614.5" x2="223.5" y2="697.5" stroke="#111" stroke-width="1.25"/>
<line x1="220.8" y1="697.5" x2="223.82" y2="697.5" stroke="#111" stroke-width="1.25"/>
<text x="220.4" y="699.7" font-size="7.88" text-anchor="end">0</text>
<line x1="220.8" y1="669.5" x2="223.82" y2="669.5" stroke="#111" stroke-width="1.25"/>
<text x="220.4" y="672.25" font-size="7.88" text-anchor="end">5</text>
<line x1="220.8" y1="642.5" x2="223.82" y2="642.5" stroke="#111" stroke-width="1.25"/>
<text x="220.4" y="644.8" font-size="7.88" text-anchor="end">10</text>
<line x1="220.8" y1="614.5" x2="223.82" y2="614.5" stroke="#111" stroke-width="1.25"/>
<text x="220.4" y="617.35" font-size="7.88" text-anchor="end">15</text>
<line x1="223.2" y1="697.5" x2="346.2" y2="697.5" stroke="#111" stroke-width="1.25"/>
<line x1="243.5" y1="697" x2="243.5" y2="699.5" stroke="#111" stroke-width="1"/>
<text x="243.5" y="707" font-size="7.56" text-anchor="middle">6</text>
<line x1="284.5" y1="697" x2="284.5" y2="699.5" stroke="#111" stroke-width="1"/>
<text x="284.6" y="707" font-size="7.56" text-anchor="middle">12</text>
<line x1="325.5" y1="697" x2="325.5" y2="699.5" stroke="#111" stroke-width="1"/>
<text x="325.6" y="707" font-size="7.56" text-anchor="middle">24</text>
<text x="198" y="646.1" font-size="7.56" text-anchor="middle" textLength="23.8" lengthAdjust="spacingAndGlyphs" transform="rotate(-90 198 646.1)">2-LTR</text>
<text x="206.3" y="645.8" font-size="7.56" text-anchor="middle" textLength="45.6" lengthAdjust="spacingAndGlyphs" transform="rotate(-90 206.3 645.8)">% of Late RT</text>
<line x1="235.5" y1="686.2" x2="235.5" y2="682.8" stroke="#111" stroke-width="1"/>
<line x1="232.95" y1="682.5" x2="238.95" y2="682.5" stroke="#111" stroke-width="1"/>
<rect x="230.5" y="686.5" width="11" height="11" fill="none" stroke="#111" stroke-width="1.2"/>
<circle cx="235.8" cy="682.8" r="2.15" fill="#111"/>
<circle cx="233" cy="695.4" r="2.15" fill="#111"/>
<circle cx="236.2" cy="696" r="2.15" fill="#111"/>
<circle cx="239.4" cy="695.4" r="2.15" fill="#111"/>
<circle cx="247.8" cy="696" r="2" fill="#e0606e"/>
<circle cx="250.6" cy="696" r="2" fill="#e0606e"/>
<circle cx="253.4" cy="696" r="2" fill="#e0606e"/>
<line x1="277.5" y1="682.3" x2="277.5" y2="679.2" stroke="#111" stroke-width="1"/>
<line x1="274.05" y1="679.5" x2="280.05" y2="679.5" stroke="#111" stroke-width="1"/>
<rect x="271.5" y="682.5" width="11" height="15" fill="none" stroke="#111" stroke-width="1.2"/>
<circle cx="276.9" cy="679.2" r="2.15" fill="#111"/>
<circle cx="276.9" cy="690.8" r="2.15" fill="#111"/>
<circle cx="273.6" cy="695.6" r="2.15" fill="#111"/>
<circle cx="280" cy="695.6" r="2.15" fill="#111"/>
<circle cx="276.9" cy="696" r="2.15" fill="#111"/>
<line x1="292.5" y1="679.7" x2="292.5" y2="673.6" stroke="#742232" stroke-width="1"/>
<line x1="289.15" y1="673.5" x2="295.15" y2="673.5" stroke="#e0606e" stroke-width="1"/>
<rect x="287.5" y="679.5" width="9" height="18" fill="none" stroke="#742232" stroke-width="1.2"/>
<circle cx="292.1" cy="673.6" r="2.15" fill="#e0606e"/>
<circle cx="289.8" cy="695.4" r="2.15" fill="#e0606e"/>
<circle cx="292.6" cy="695.8" r="2.15" fill="#e0606e"/>
<circle cx="295" cy="695.4" r="2.15" fill="#e0606e"/>
<line x1="318.5" y1="632.3" x2="318.5" y2="625.6" stroke="#111" stroke-width="1"/>
<line x1="315.05" y1="625.5" x2="321.05" y2="625.5" stroke="#111" stroke-width="1"/>
<rect x="312.5" y="632.5" width="11" height="61" fill="none" stroke="#111" stroke-width="1.2"/>
<line x1="312.7" y1="671.5" x2="323.4" y2="671.5" stroke="#111" stroke-width="1.2"/>
<circle cx="318.1" cy="625.6" r="2.15" fill="#111"/>
<circle cx="318.1" cy="652.1" r="2.15" fill="#111"/>
<circle cx="315.5" cy="693.7" r="2.15" fill="#111"/>
<circle cx="321" cy="691.1" r="2.15" fill="#111"/>
<line x1="333.5" y1="632.3" x2="333.5" y2="625.6" stroke="#742232" stroke-width="1"/>
<line x1="330.45" y1="625.5" x2="336.45" y2="625.5" stroke="#e0606e" stroke-width="1"/>
<line x1="333.5" y1="687.8" x2="333.5" y2="689.1" stroke="#742232" stroke-width="1"/>
<line x1="330.45" y1="689.5" x2="336.45" y2="689.5" stroke="#e0606e" stroke-width="1"/>
<rect x="328.5" y="632.5" width="10" height="55" fill="none" stroke="#742232" stroke-width="1.2"/>
<line x1="328.2" y1="666.5" x2="338.7" y2="666.5" stroke="#742232" stroke-width="1.2"/>
<circle cx="333.5" cy="625.6" r="2.15" fill="#e0606e"/>
<circle cx="333.5" cy="649.4" r="2.15" fill="#e0606e"/>
<circle cx="333.5" cy="683.9" r="2.15" fill="#e0606e"/>
<circle cx="333.5" cy="689.1" r="2.15" fill="#e0606e"/>
</svg></body></html>
